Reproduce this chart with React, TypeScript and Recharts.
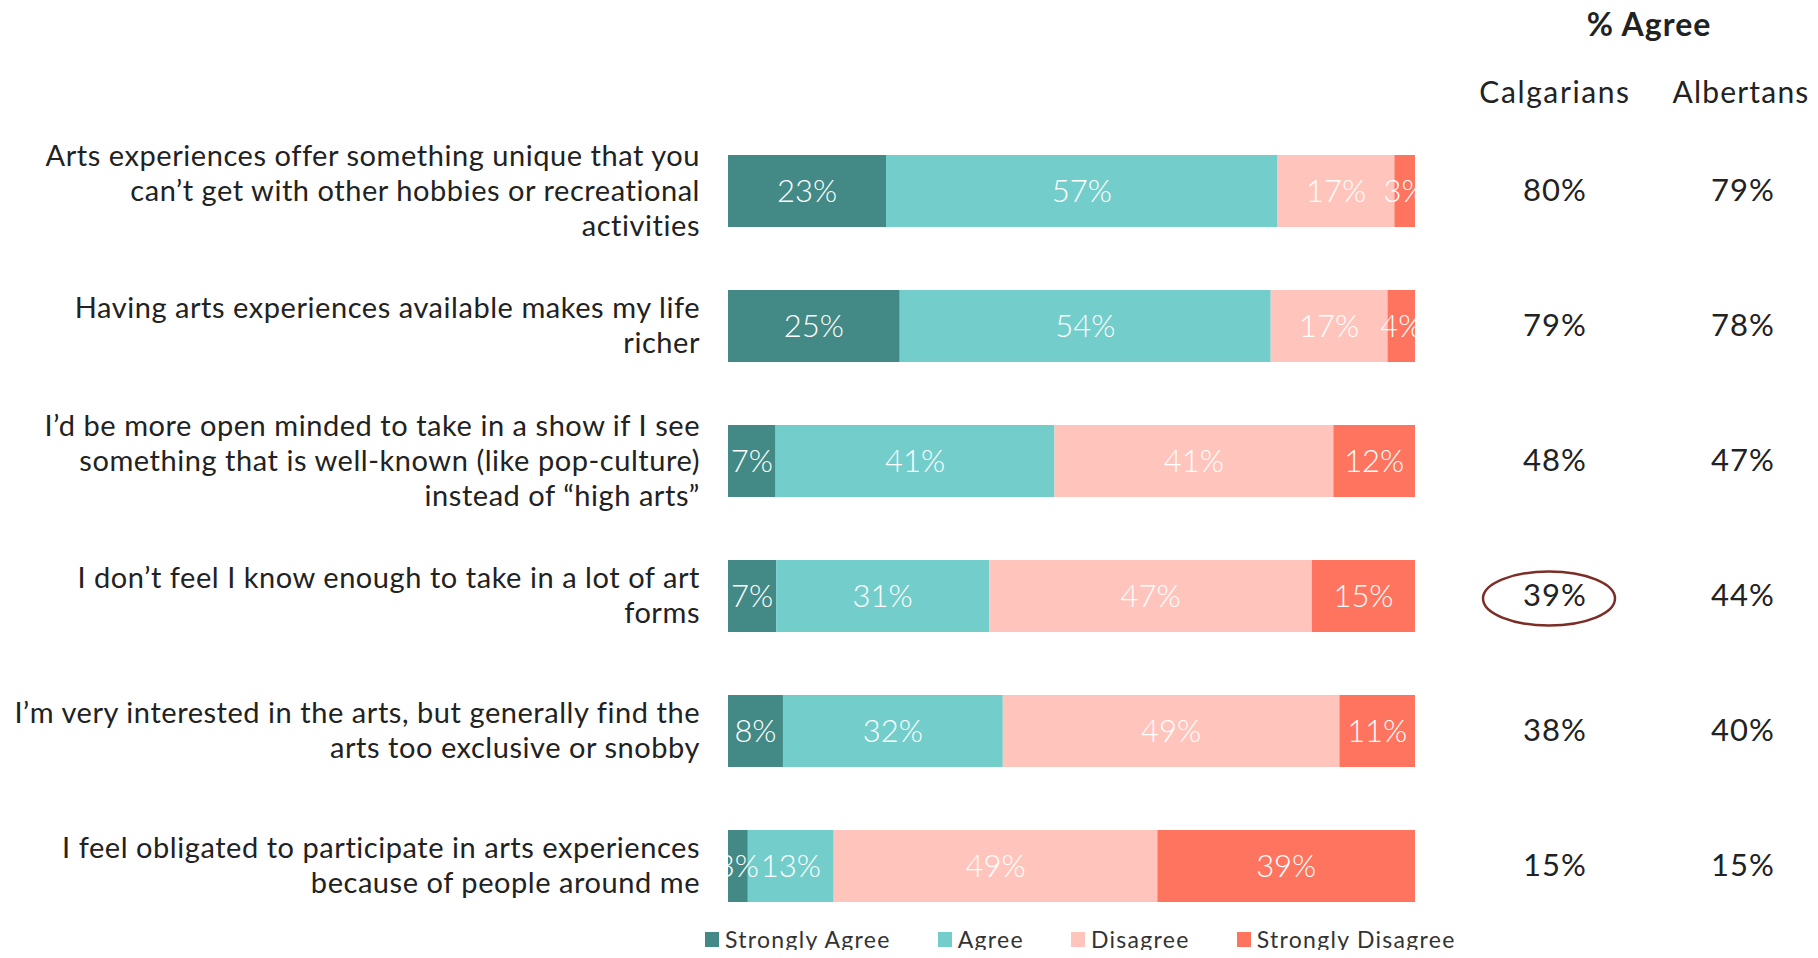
import React from 'react'
import { BarChart, Bar, XAxis, YAxis, LabelList, Legend } from 'recharts'

const statements = [
  'Arts experiences offer something unique that you\ncan’t get with other hobbies or recreational\nactivities',
  'Having arts experiences available makes my life\nricher',
  'I’d be more open minded to take in a show if I see\nsomething that is well-known (like pop-culture)\ninstead of “high arts”',
  'I don’t feel I know enough to take in a lot of art\nforms',
  'I’m very interested in the arts, but generally find the\narts too exclusive or snobby',
  'I feel obligated to participate in arts experiences\nbecause of people around me',
]
const stronglyAgree = [23, 25, 7, 7, 8, 3]
const agree = [57, 54, 41, 31, 32, 13]
const disagree = [17, 17, 41, 47, 49, 49]
const stronglyDisagree = [3, 4, 12, 15, 11, 39]
const calgarians = [80, 79, 48, 39, 38, 15]
const albertans = [79, 78, 47, 44, 40, 15]
const circled = 3 // Calgarians value that is ringed

const series = [
  { key: 'sa', name: 'Strongly Agree', color: '#438A86' },
  { key: 'a', name: 'Agree', color: '#73CECB' },
  { key: 'd', name: 'Disagree', color: '#FFC5BC' },
  { key: 'sd', name: 'Strongly Disagree', color: '#FF745E' },
]

const data = statements.map((name, i) => ({
  name,
  sa: stronglyAgree[i],
  a: agree[i],
  d: disagree[i],
  sd: stronglyDisagree[i],
}))

const FONT = 'Lato, "Noto Sans", sans-serif'
const TEXT = '#222222'

const StatementTick = (props: any) => {
  const { x, y, payload } = props
  const lines = String(payload.value).split('\n')
  const lh = 35
  const start = y - ((lines.length - 1) * lh) / 2
  return (
    <text x={x} y={start} textAnchor="end" fill={TEXT} fontSize={29} letterSpacing={0.55} fontFamily={FONT}>
      {lines.map((l, i) => (
        <tspan key={i} x={x} y={start + i * lh} dy="0.35em">
          {l}
        </tspan>
      ))}
    </text>
  )
}

const AgreeTick = (props: any) => {
  const { x, y, index } = props
  return (
    <g fontFamily={FONT} fontSize={31} fill={TEXT} letterSpacing={1}>
      <text x={x + 140} y={y} dy="0.35em" textAnchor="middle">{calgarians[index]}%</text>
      <text x={x + 328} y={y} dy="0.35em" textAnchor="middle">{albertans[index]}%</text>
      {index === circled && (
        <ellipse cx={x + 134} cy={y + 3} rx={66} ry={27} fill="none" stroke="#7B2D26" strokeWidth={2.5} />
      )}
    </g>
  )
}

const HeaderLabel = (props: any) => {
  const { x, y } = props.viewBox
  return (
    <g fontFamily={FONT} fill={TEXT}>
      <text x={x + 234} y={y - 98} dy="0.35em" textAnchor="middle" fontSize={32} fontWeight={700} letterSpacing={1}>% Agree</text>
      <text x={x + 140} y={y - 31} dy="0.35em" textAnchor="middle" fontSize={30} letterSpacing={1.6}>Calgarians</text>
      <text x={x + 326} y={y - 31} dy="0.35em" textAnchor="middle" fontSize={30} letterSpacing={1.2}>Albertans</text>
    </g>
  )
}

const LegendContent = () => (
  <div style={{ display: 'flex', alignItems: 'center', height: 12, fontFamily: FONT, fontSize: 23, lineHeight: '24px', color: '#333', letterSpacing: 1.3 }}>
    {series.map((s) => (
      <div key={s.key} style={{ display: 'flex', alignItems: 'center', marginRight: 47 }}>
        <span style={{ width: 14, height: 15, background: s.color, marginRight: 6, display: 'inline-block' }} />
        <span>{s.name}</span>
      </div>
    ))}
  </div>
)

export default function App() {
  return (
    <BarChart
      width={1802}
      height={942}
      data={data}
      layout="vertical"
      stackOffset="expand"
      barSize={72}
      margin={{ top: 115, right: 0, bottom: 5, left: 0 }}
    >
      <XAxis type="number" domain={[0, 1]} hide />
      <YAxis
        yAxisId="left"
        type="category"
        dataKey="name"
        width={720}
        tickLine={false}
        axisLine={false}
        tickSize={0}
        tickMargin={28}
        tick={<StatementTick />}
        interval={0}
      />
      <YAxis
        yAxisId="right"
        orientation="right"
        type="category"
        dataKey="name"
        width={395}
        tickLine={false}
        axisLine={false}
        tickSize={0}
        tickMargin={0}
        tick={<AgreeTick />}
        interval={0}
        label={<HeaderLabel />}
      />
      <Legend
        verticalAlign="bottom"
        align="left"
        content={<LegendContent />}
        wrapperStyle={{ left: 697, width: 'auto' }}
      />
      {series.map((s) => (
        <Bar key={s.key} yAxisId="left" dataKey={s.key} name={s.name} stackId="1" fill={s.color} isAnimationActive={false}>
          <LabelList
            dataKey={s.key}
            position="center"
            fill="#ffffff"
            fontSize={31}
            fontWeight={300}
            fontFamily={FONT}
            formatter={(v: any) => `${v}%`}
          />
        </Bar>
      ))}
    </BarChart>
  )
}
